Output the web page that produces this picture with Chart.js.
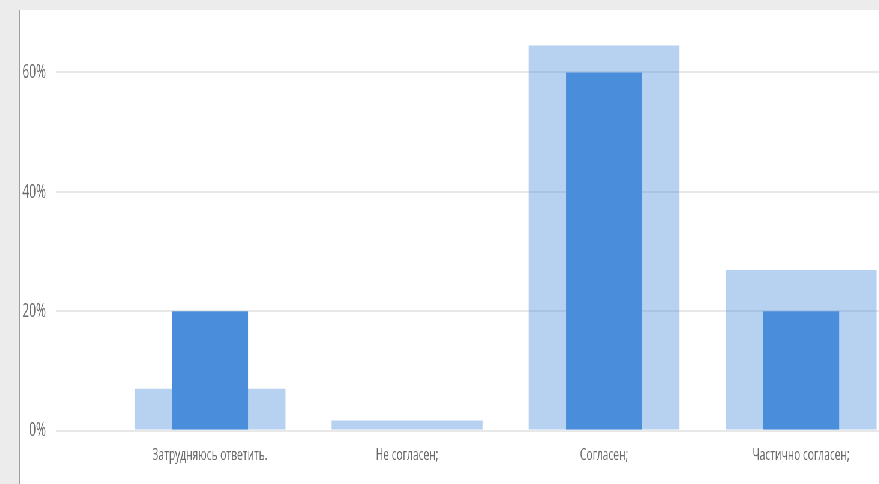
<!DOCTYPE html>
<html>
<head>
<meta charset="utf-8">
<script src="https://cdn.jsdelivr.net/npm/chart.js@4/dist/chart.umd.min.js"></script>
<style>
  html, body { margin: 0; padding: 0; }
  body { width: 879px; height: 484px; background: #ececec; overflow: hidden; position: relative; }
  #edge { position: absolute; left: 19px; top: 10px; width: 1px; height: 474px; background: #9e9e9e; }
  /* the chart is laid out wide, then squeezed horizontally */
  #panel { position: absolute; left: 20px; top: 10px; width: 1466px; height: 474px; overflow: hidden;
           background: #ffffff; transform: scaleX(0.6); transform-origin: 0 0; }
  #wrap { position: absolute; left: 0; top: -8px; width: 1466px; height: 482px; }
</style>
</head>
<body>
<div id="edge"></div>
<div id="panel"><div id="wrap"><canvas id="chart"></canvas></div></div>
<script>
const categories = ['Затрудняюсь ответить.', 'Не согласен;', 'Согласен;', 'Частично согласен;'];
const seriesWide = [7.0, 1.7, 64.5, 26.9];
const seriesNarrow = [20, 0, 60, 20];
const yTicks = [0, 20, 40, 60];

const barBlue = '#4a8edb';
const barBlueLight = 'rgba(74, 142, 219, 0.4)';
const gridGray = '#e8e8e8';
const textGray = '#6b6b6b';

new Chart(document.getElementById('chart'), {
  type: 'bar',
  data: {
    labels: categories,
    datasets: [
      {
        data: seriesNarrow,
        backgroundColor: barBlue,
        grouped: false,
        categoryPercentage: 1,
        barPercentage: 0.386,
        order: 0
      },
      {
        data: seriesWide,
        backgroundColor: barBlueLight,
        grouped: false,
        categoryPercentage: 1,
        barPercentage: 0.766,
        order: 1
      }
    ]
  },
  options: {
    responsive: true,
    maintainAspectRatio: false,
    animation: false,
    layout: { padding: { top: 13, right: 0, bottom: 5, left: 0 } },
    plugins: { legend: { display: false }, tooltip: { enabled: false } },
    scales: {
      x: {
        grid: { display: false, drawTicks: false },
        border: { display: false },
        ticks: {
          color: textGray,
          padding: 14,
          maxRotation: 0,
          autoSkip: false,
          font: { family: 'Open Sans', size: 17 }
        }
      },
      y: {
        min: 0,
        max: 67,
        afterFit(scale) { scale.width = 152.5; },
        afterBuildTicks(scale) { scale.ticks = yTicks.map(v => ({ value: v })); },
        grid: { color: gridGray, lineWidth: 2, drawTicks: true, tickLength: 92.5 },
        border: { display: false },
        ticks: {
          color: textGray,
          padding: 16.7,
          font: { family: 'Open Sans', size: 20 },
          callback: v => v + '%'
        }
      }
    }
  }
});
</script>
</body>
</html>
